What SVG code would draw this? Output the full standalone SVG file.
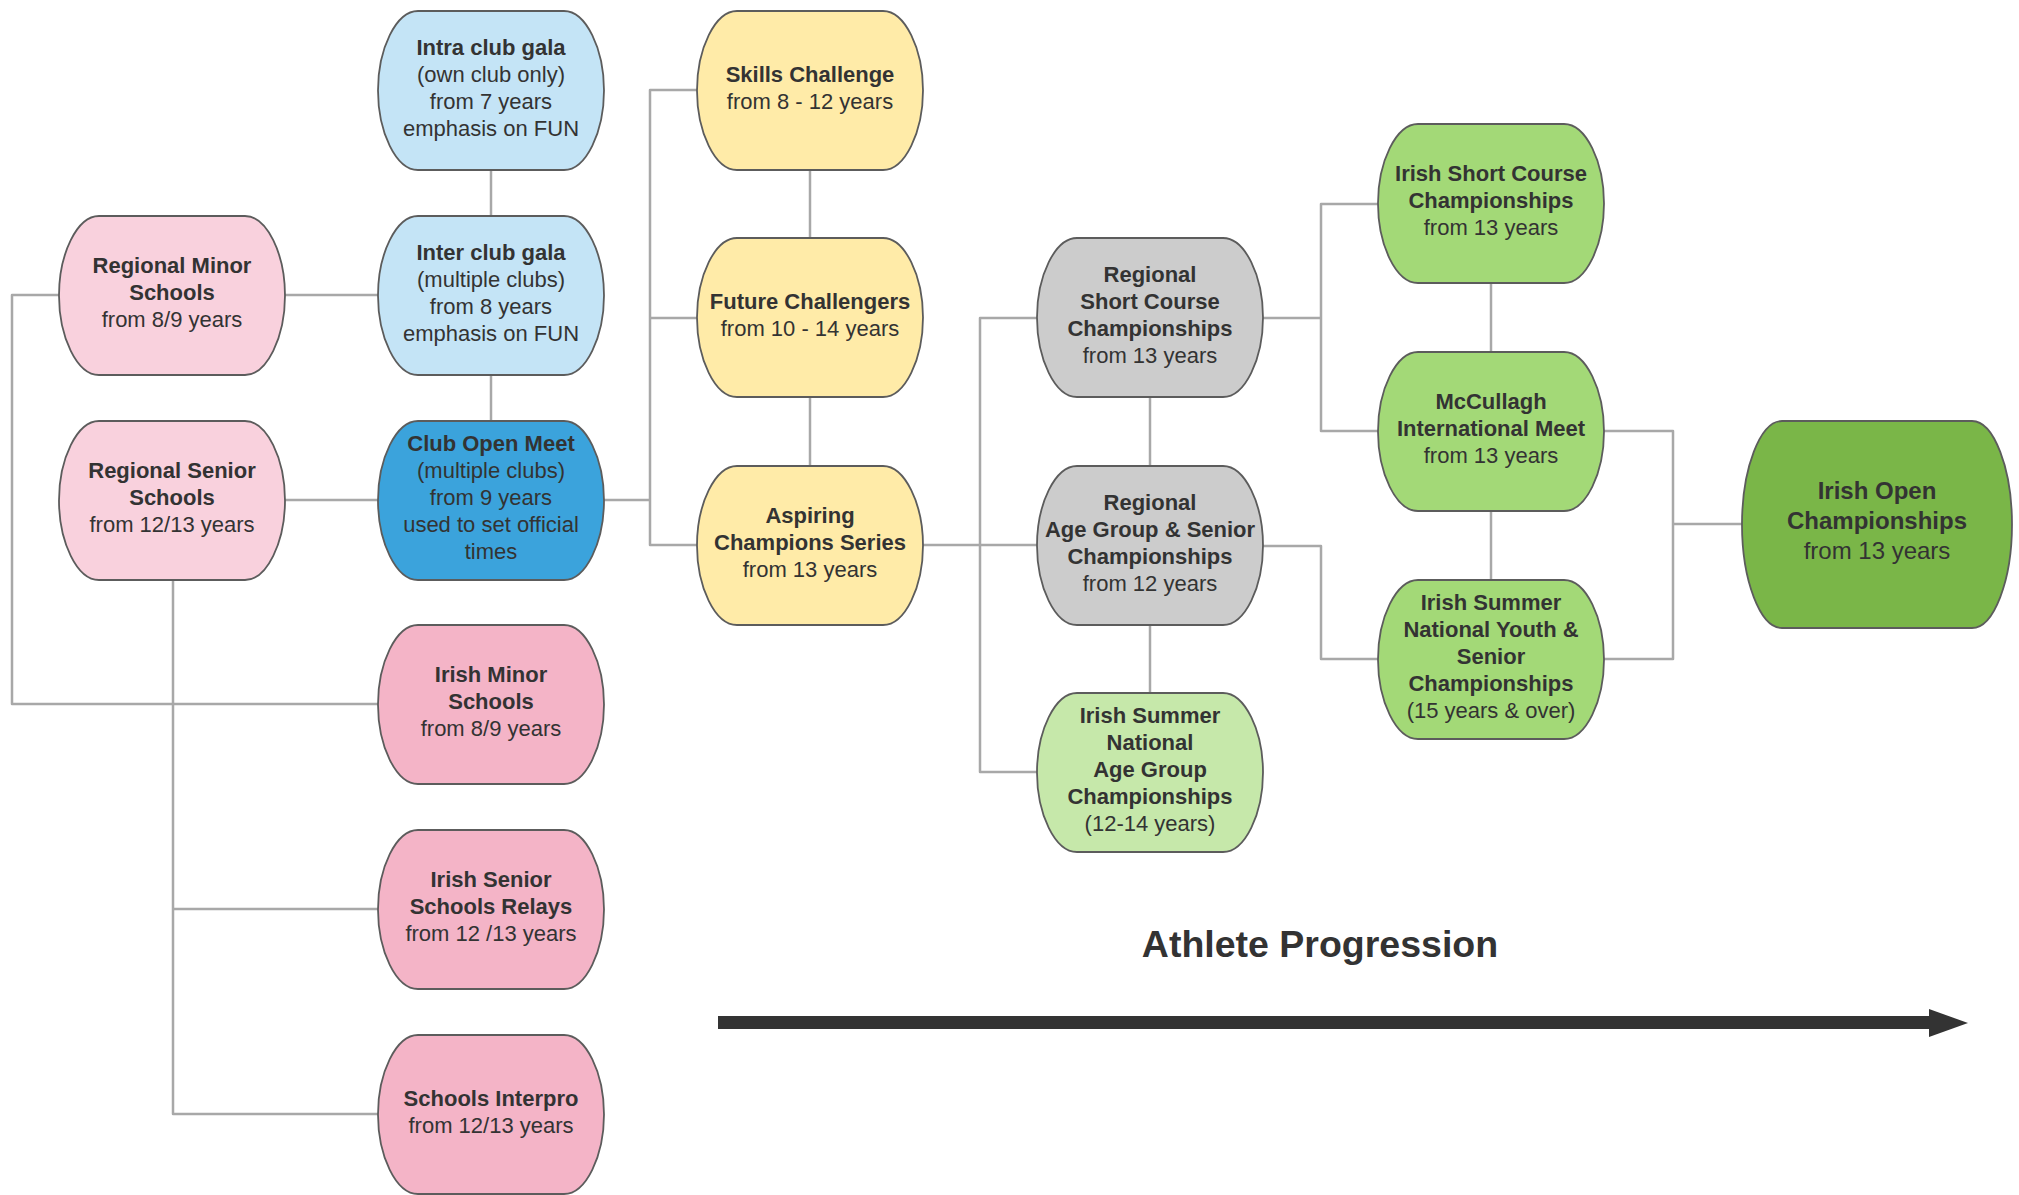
<svg xmlns="http://www.w3.org/2000/svg" xmlns:xlink="http://www.w3.org/1999/xlink" width="2019" height="1195" viewBox="0 0 2019 1195">
<style>
.box{stroke:#5c5c5c;stroke-width:1.8}
.lblue{fill:#c4e4f6}.blue{fill:#3ba3dc}.lpink{fill:#f9d1dd}.pink{fill:#f4b4c7}
.yellow{fill:#ffeba8}.gray{fill:#cccccc}.lgreen{fill:#c6e8aa}.green{fill:#a3d977}.dgreen{fill:#7ab648}
text{font-family:"Liberation Sans",Arial,sans-serif;font-size:22px;fill:#333333;text-anchor:middle}
.b{font-weight:bold}
.big{font-size:24px}
.title{font-size:37.5px;font-weight:bold}
.conn{fill:none;stroke:#a8a8a8;stroke-width:2.5;stroke-linejoin:round}
</style>
<defs>
<path id="pill" d="M40,0 H186 C208,0 226,38 226,79.5 C226,121 208,159 186,159 H40 C18,159 0,121 0,79.5 C0,38 18,0 40,0 Z"/>
<path id="bigpill" d="M40,0 H230 C252,0 270,48 270,103.5 C270,159 252,207 230,207 H40 C18,207 0,159 0,103.5 C0,48 18,0 40,0 Z"/>
</defs>

<g id="connectors">
<path class="conn" d="M491,170 V216"/>
<path class="conn" d="M491,375 V421"/>
<path class="conn" d="M285,295 H378"/>
<path class="conn" d="M285,500 H378"/>
<path class="conn" d="M59,295 H12 V704 H378"/>
<path class="conn" d="M173,580 V1114 H378"/>
<path class="conn" d="M173,909 H378"/>
<path class="conn" d="M604,500 H650"/>
<path class="conn" d="M697,90 H650 V545 H697"/>
<path class="conn" d="M650,318 H697"/>
<path class="conn" d="M810,170 V238"/>
<path class="conn" d="M810,397 V466"/>
<path class="conn" d="M923,545 H1037"/>
<path class="conn" d="M1037,318 H980 V772 H1037"/>
<path class="conn" d="M1150,397 V466"/>
<path class="conn" d="M1150,625 V693"/>
<path class="conn" d="M1263,318 H1321"/>
<path class="conn" d="M1378,204 H1321 V431 H1378"/>
<path class="conn" d="M1263,546 H1321 V659 H1378"/>
<path class="conn" d="M1491,283 V352"/>
<path class="conn" d="M1491,511 V580"/>
<path class="conn" d="M1604,431 H1673 V659 H1604"/>
<path class="conn" d="M1673,524 H1742"/>
</g>

<g id="n-intra">
<use xlink:href="#pill" x="378" y="11" class="box lblue"/>
<text x="491" y="54.5"><tspan class="b" x="491">Intra club gala</tspan><tspan x="491" dy="27">(own club only)</tspan><tspan x="491" dy="27">from 7 years</tspan><tspan x="491" dy="27">emphasis on FUN</tspan></text>
</g>
<g id="n-inter">
<use xlink:href="#pill" x="378" y="216" class="box lblue"/>
<text x="491" y="259.5"><tspan class="b" x="491">Inter club gala</tspan><tspan x="491" dy="27">(multiple clubs)</tspan><tspan x="491" dy="27">from 8 years</tspan><tspan x="491" dy="27">emphasis on FUN</tspan></text>
</g>
<g id="n-clubopen">
<use xlink:href="#pill" x="378" y="421" class="box blue"/>
<text x="491" y="451"><tspan class="b" x="491">Club Open Meet</tspan><tspan x="491" dy="27">(multiple clubs)</tspan><tspan x="491" dy="27">from 9 years</tspan><tspan x="491" dy="27">used to set official</tspan><tspan x="491" dy="27">times</tspan></text>
</g>
<g id="n-regminor">
<use xlink:href="#pill" x="59" y="216" class="box lpink"/>
<text x="172" y="273"><tspan class="b" x="172">Regional Minor</tspan><tspan class="b" x="172" dy="27">Schools</tspan><tspan x="172" dy="27">from 8/9 years</tspan></text>
</g>
<g id="n-regsenior">
<use xlink:href="#pill" x="59" y="421" class="box lpink"/>
<text x="172" y="478"><tspan class="b" x="172">Regional Senior</tspan><tspan class="b" x="172" dy="27">Schools</tspan><tspan x="172" dy="27">from 12/13 years</tspan></text>
</g>
<g id="n-irishminor">
<use xlink:href="#pill" x="378" y="625" class="box pink"/>
<text x="491" y="682"><tspan class="b" x="491">Irish Minor</tspan><tspan class="b" x="491" dy="27">Schools</tspan><tspan x="491" dy="27">from 8/9 years</tspan></text>
</g>
<g id="n-irishsenior">
<use xlink:href="#pill" x="378" y="830" class="box pink"/>
<text x="491" y="887"><tspan class="b" x="491">Irish Senior</tspan><tspan class="b" x="491" dy="27">Schools Relays</tspan><tspan x="491" dy="27">from 12 /13 years</tspan></text>
</g>
<g id="n-interpro">
<use xlink:href="#pill" x="378" y="1035" class="box pink"/>
<text x="491" y="1105.5"><tspan class="b" x="491">Schools Interpro</tspan><tspan x="491" dy="27">from 12/13 years</tspan></text>
</g>
<g id="n-skills">
<use xlink:href="#pill" x="697" y="11" class="box yellow"/>
<text x="810" y="81.5"><tspan class="b" x="810">Skills Challenge</tspan><tspan x="810" dy="27">from 8 - 12 years</tspan></text>
</g>
<g id="n-future">
<use xlink:href="#pill" x="697" y="238" class="box yellow"/>
<text x="810" y="308.5"><tspan class="b" x="810">Future Challengers</tspan><tspan x="810" dy="27">from 10 - 14 years</tspan></text>
</g>
<g id="n-aspiring">
<use xlink:href="#pill" x="697" y="466" class="box yellow"/>
<text x="810" y="523"><tspan class="b" x="810">Aspiring</tspan><tspan class="b" x="810" dy="27">Champions Series</tspan><tspan x="810" dy="27">from 13 years</tspan></text>
</g>
<g id="n-regsc">
<use xlink:href="#pill" x="1037" y="238" class="box gray"/>
<text x="1150" y="281.5"><tspan class="b" x="1150">Regional</tspan><tspan class="b" x="1150" dy="27">Short Course</tspan><tspan class="b" x="1150" dy="27">Championships</tspan><tspan x="1150" dy="27">from 13 years</tspan></text>
</g>
<g id="n-regag">
<use xlink:href="#pill" x="1037" y="466" class="box gray"/>
<text x="1150" y="509.5"><tspan class="b" x="1150">Regional</tspan><tspan class="b" x="1150" dy="27">Age Group &amp; Senior</tspan><tspan class="b" x="1150" dy="27">Championships</tspan><tspan x="1150" dy="27">from 12 years</tspan></text>
</g>
<g id="n-summernag">
<use xlink:href="#pill" x="1037" y="693" class="box lgreen"/>
<text x="1150" y="723"><tspan class="b" x="1150">Irish Summer</tspan><tspan class="b" x="1150" dy="27">National</tspan><tspan class="b" x="1150" dy="27">Age Group</tspan><tspan class="b" x="1150" dy="27">Championships</tspan><tspan x="1150" dy="27">(12-14 years)</tspan></text>
</g>
<g id="n-isc">
<use xlink:href="#pill" x="1378" y="124" class="box green"/>
<text x="1491" y="181"><tspan class="b" x="1491">Irish Short Course</tspan><tspan class="b" x="1491" dy="27">Championships</tspan><tspan x="1491" dy="27">from 13 years</tspan></text>
</g>
<g id="n-mccullagh">
<use xlink:href="#pill" x="1378" y="352" class="box green"/>
<text x="1491" y="409"><tspan class="b" x="1491">McCullagh</tspan><tspan class="b" x="1491" dy="27">International Meet</tspan><tspan x="1491" dy="27">from 13 years</tspan></text>
</g>
<g id="n-summerny">
<use xlink:href="#pill" x="1378" y="580" class="box green"/>
<text x="1491" y="610"><tspan class="b" x="1491">Irish Summer</tspan><tspan class="b" x="1491" dy="27">National Youth &amp;</tspan><tspan class="b" x="1491" dy="27">Senior</tspan><tspan class="b" x="1491" dy="27">Championships</tspan><tspan x="1491" dy="27">(15 years &amp; over)</tspan></text>
</g>
<g id="n-irishopen">
<use xlink:href="#bigpill" x="1742" y="421" class="box dgreen"/>
<text x="1877" y="498.5" class="big"><tspan class="b" x="1877">Irish Open</tspan><tspan class="b" x="1877" dy="30">Championships</tspan><tspan x="1877" dy="30">from 13 years</tspan></text>
</g>

<g id="progression">
<text x="1320" y="957" class="title">Athlete Progression</text>
<line x1="718" y1="1022.5" x2="1930" y2="1022.5" stroke="#333333" stroke-width="13"/>
<path d="M1929,1009 L1968,1023 L1929,1037 Z" fill="#333333"/>
</g>
</svg>
